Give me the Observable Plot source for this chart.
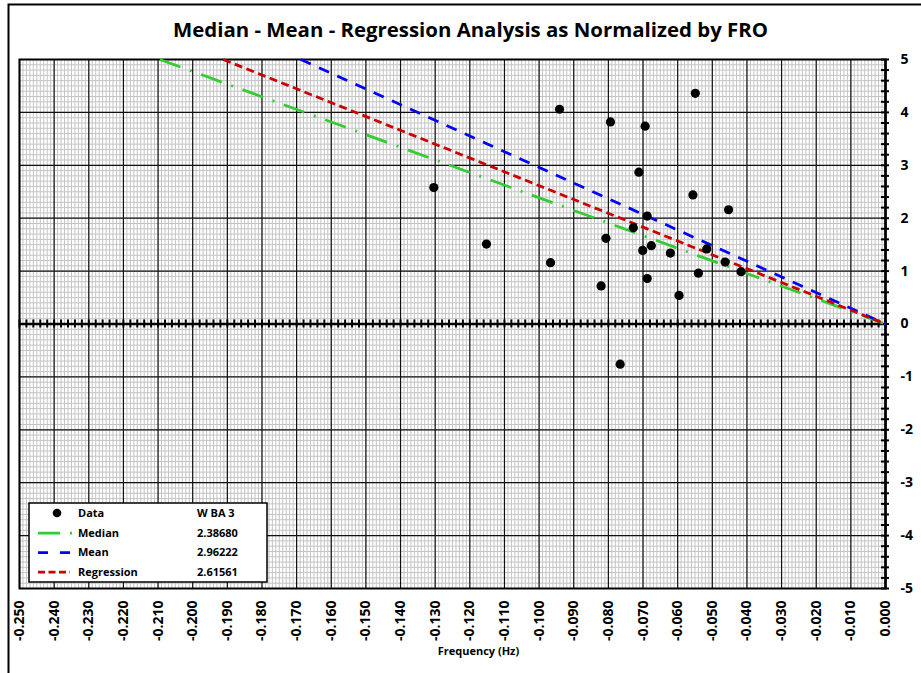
<!DOCTYPE html>
<html><head><meta charset="utf-8">
<script src="https://cdn.jsdelivr.net/npm/d3@7"></script>
<script src="https://cdn.jsdelivr.net/npm/@observablehq/plot@0.6"></script>
<style>
html,body{margin:0;padding:0;background:#fff;}
#chart{position:relative;width:921px;height:673px;overflow:hidden;}
#chart svg{font-family:"Open Sans",sans-serif;display:block;}
</style></head><body><div id="chart"></div>
<script>
const title = "Median - Mean - Regression Analysis as Normalized by FRO";
const xLabel = "Frequency (Hz)";
const xTickValues = [-0.25,-0.24,-0.23,-0.22,-0.21,-0.20,-0.19,-0.18,-0.17,-0.16,-0.15,-0.14,-0.13,-0.12,-0.11,-0.10,-0.09,-0.08,-0.07,-0.06,-0.05,-0.04,-0.03,-0.02,-0.01,0];
const xTickLabels = ["-0.250","-0.240","-0.230","-0.220","-0.210","-0.200","-0.190","-0.180","-0.170","-0.160","-0.150","-0.140","-0.130","-0.120","-0.110","-0.100","-0.090","-0.080","-0.070","-0.060","-0.050","-0.040","-0.030","-0.020","-0.010","0.000"];
const yTickValues = [-5,-4,-3,-2,-1,0,1,2,3,4,5];
const yTickLabels = ["-5","-4","-3","-2","-1","0","1","2","3","4","5"];

// Data points (frequency Hz, normalized value)
const dataX = [-0.0549,-0.0941,-0.0794,-0.0694,-0.0712,-0.1304,-0.0556,-0.0453,-0.0688,-0.0728,-0.0807,-0.1152,-0.0676,-0.0701,-0.0621,-0.0516,-0.0463,-0.0417,-0.0967,-0.0540,-0.0688,-0.0821,-0.0596,-0.0766];
const dataY = [4.36,4.06,3.82,3.74,2.87,2.58,2.44,2.16,2.04,1.82,1.62,1.51,1.48,1.39,1.34,1.42,1.17,0.99,1.16,0.96,0.86,0.72,0.54,-0.76];

// Fit lines (from top of chart down to origin)
const seriesNames = ["Median","Mean","Regression"];
const seriesValues = ["2.38680","2.96222","2.61561"];
const seriesColors = ["#33cc33","#0000ff","#cc0000"];
const seriesDash = ["22,10,2,10","11,9","8,4.5"];
const medianLineX = [-0.2095, 0], medianLineY = [5, 0];
const meanLineX = [-0.1688, 0], meanLineY = [5, 0];
const regressionLineX = [-0.1912, 0], regressionLineY = [5, 0];
const legendHeader = "W BA 3";
const dataLabel = "Data";

const points = dataX.map((x, i) => ({x, y: dataY[i]}));
const lineOf = (X, Y) => X.map((x, i) => ({x, y: Y[i]}));
const lines = [lineOf(medianLineX, medianLineY), lineOf(meanLineX, meanLineY), lineOf(regressionLineX, regressionLineY)];

const minorX = d3.range(-250, 1, 1).map(d => d / 1000);
const minorY = d3.range(-50, 51, 1).map(d => d / 10);
const axisTicksX = d3.range(-125, 1, 1).map(d => d / 500);
const axisTicksY = d3.range(-25, 26, 1).map(d => d / 5);

const W = 921, H = 673;
const plot = Plot.plot({
  width: W, height: H,
  marginLeft: 19, marginRight: 36, marginTop: 59, marginBottom: 85,
  x: {domain: [-0.25, 0], axis: null},
  y: {domain: [-5, 5], axis: null},
  style: {fontFamily: "'Open Sans', sans-serif", background: "white"},
  marks: [
    Plot.ruleX(minorX, {x: d => d, stroke: "#c4c4c4", strokeWidth: 1}),
    Plot.ruleY(minorY, {y: d => d, stroke: "#c4c4c4", strokeWidth: 1}),
    Plot.ruleX(xTickValues, {x: d => d, stroke: "#111", strokeWidth: 1.2}),
    Plot.ruleY(yTickValues, {y: d => d, stroke: "#111", strokeWidth: 1.2}),
    Plot.ruleY([0], {y: d => d, stroke: "#000", strokeWidth: 2.5}),
    Plot.ruleX(axisTicksX, {x: d => d, y1: 0, y2: 0, insetTop: -4, insetBottom: -4, stroke: "#000", strokeWidth: 2}),
    Plot.ruleX([0], {x: d => d, stroke: "#000", strokeWidth: 2.5}),
    Plot.ruleY(axisTicksY, {y: d => d, x1: 0, x2: 0, insetLeft: -4, insetRight: -4, stroke: "#000", strokeWidth: 2}),
    Plot.frame({stroke: "#000", strokeWidth: 2}),
    ...lines.map((L, i) => Plot.line(L, {x: "x", y: "y", stroke: seriesColors[i], strokeWidth: 2.75, strokeDasharray: seriesDash[i], strokeLinecap: "butt"})),
    Plot.dot(points, {x: "x", y: "y", r: 4.6, fill: "#000", stroke: "none"}),
    Plot.text(xTickValues, {x: d => d, frameAnchor: "bottom", dy: 12, rotate: -90, textAnchor: "end", lineAnchor: "middle", text: (d, i) => xTickLabels[i], fontSize: 14, fontWeight: "bold", fill: "#000"}),
    Plot.text(yTickValues, {y: d => d, frameAnchor: "right", dx: 15, textAnchor: "start", text: (d, i) => yTickLabels[i], fontSize: 14, fontWeight: "bold", fill: "#000"}),
    Plot.text([xLabel], {frameAnchor: "bottom", x: () => -0.1175, dy: 66, text: d => d, fontSize: 11, fontWeight: "bold", fill: "#000"})
  ]
});

const svg = d3.select(plot);
// outer chart-area border (left and top)
svg.append("path").attr("d", `M8.5,${H} V4.5 H${W}`).attr("fill", "none").attr("stroke", "#000").attr("stroke-width", 2);
svg.append("text").attr("x", 470.5).attr("y", 37).attr("text-anchor", "middle")
  .attr("font-size", 20.4).attr("font-weight", "bold").attr("fill", "#000").text(title);

// legend
const lg = svg.append("g").attr("font-size", 11).attr("font-weight", "bold").attr("fill", "#000").attr("text-anchor", "start");
lg.append("rect").attr("x", 29).attr("y", 503).attr("width", 238).attr("height", 79)
  .attr("fill", "#fff").attr("stroke", "#000").attr("stroke-width", 1.5);
const rowY = [513, 533, 552.5, 572];
lg.append("circle").attr("cx", 57).attr("cy", rowY[0]).attr("r", 4.3).attr("fill", "#000");
lg.append("text").attr("x", 78).attr("y", rowY[0]).attr("dy", "0.36em").attr("text-anchor", "start").text(dataLabel);
lg.append("text").attr("x", 197).attr("y", rowY[0]).attr("dy", "0.36em").attr("text-anchor", "start").text(legendHeader);
const legendDash = ["22,10,2,10", "10,12", "7,3.5"];
const legendEnd = [73, 70, 70];
seriesNames.forEach((name, i) => {
  lg.append("line").attr("x1", 38).attr("x2", legendEnd[i]).attr("y1", rowY[i + 1]).attr("y2", rowY[i + 1])
    .attr("stroke", seriesColors[i]).attr("stroke-width", 2.75).attr("stroke-dasharray", legendDash[i]);
  lg.append("text").attr("x", 78).attr("y", rowY[i + 1]).attr("dy", "0.36em").attr("text-anchor", "start").text(name);
  lg.append("text").attr("x", 197).attr("y", rowY[i + 1]).attr("dy", "0.36em").attr("text-anchor", "start").text(seriesValues[i]);
});

document.getElementById("chart").appendChild(plot);
</script></body></html>
